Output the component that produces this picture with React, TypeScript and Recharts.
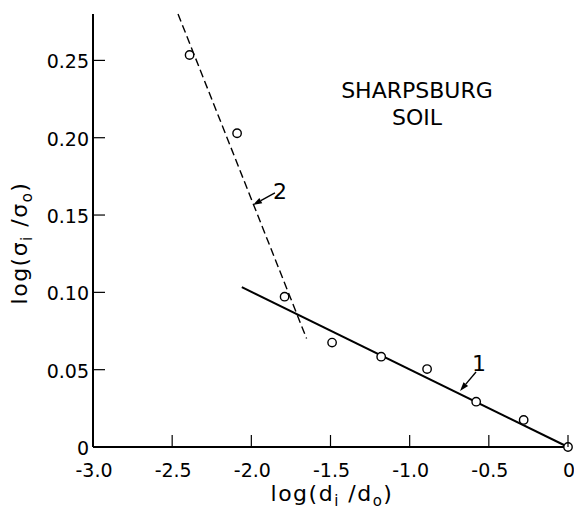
import {
  ComposedChart,
  XAxis,
  YAxis,
  Line,
  Scatter,
  ReferenceLine,
  ReferenceDot,
} from "recharts";

// measured points, log(di/do) vs log(sigma_i/sigma_o)
const pointX = [-2.39, -2.09, -1.79, -1.49, -1.18, -0.89, -0.58, -0.28, 0];
const pointY = [0.2535, 0.2029, 0.0972, 0.0675, 0.0584, 0.0504, 0.0293, 0.0175, 0];

// fitted line 1 (solid) and line 2 (dashed)
const line1X = [-2.06, 0];
const line1Y = [0.1034, 0];
const line2X = [-2.463, -1.651];
const line2Y = [0.28, 0.0701];

const xTicks = [-3, -2.5, -2, -1.5, -1, -0.5, 0];
const yTicks = [0, 0.05, 0.1, 0.15, 0.2, 0.25];

const arrowNames = ["2", "1"];
const arrowTails = [
  { x: -1.851, y: 0.1643 },
  { x: -0.581, y: 0.0485 },
];
const arrowTips = [
  { x: -1.99, y: 0.1565 },
  { x: -0.682, y: 0.0362 },
];

const FONT = "DejaVu Sans";
const TICK_LEN = 12;

const points = pointX.map((x, i) => ({ x, y: pointY[i] }));
const line1 = line1X.map((x, i) => ({ x, y: line1Y[i] }));
const line2 = line2X.map((x, i) => ({ x, y: line2Y[i] }));

const labelOffsets = [
  { dx: -2, dy: 6 },
  { dx: -4, dy: -1 },
];

function arrowShape(idx: number) {
  return (p: any) => {
    const { x1, y1, x2, y2 } = p;
    // x1,y1 = tail, x2,y2 = tip
    const ang = Math.atan2(y2 - y1, x2 - x1);
    const len = 9;
    const w = 3;
    const bx = x2 - len * Math.cos(ang);
    const by = y2 - len * Math.sin(ang);
    const px = -Math.sin(ang) * w;
    const py = Math.cos(ang) * w;
    return (
      <g>
        <line x1={x1} y1={y1} x2={bx} y2={by} stroke="#000" strokeWidth={1.4} />
        <polygon
          points={`${x2},${y2} ${bx + px},${by + py} ${bx - px},${by - py}`}
          fill="#000"
        />
        <text
          x={x1 + labelOffsets[idx].dx}
          y={y1 + labelOffsets[idx].dy}
          fontSize={22}
          fontFamily={FONT}
          fill="#000"
        >
          {arrowNames[idx]}
        </text>
      </g>
    );
  };
}

// inward tick marks + labels
const BottomTick = (p: any) => {
  const v = p.payload.value;
  return (
    <g>
      <line x1={p.x} x2={p.x} y1={p.y} y2={p.y - TICK_LEN} stroke="#000" strokeWidth={1.2} />
      <text x={p.x + 1} y={p.y + 30} textAnchor="middle" fontSize={19} fontFamily={FONT} fill="#000">
        {v === 0 ? "0" : v.toFixed(1)}
      </text>
    </g>
  );
};

const LeftTick = (p: any) => {
  const v = p.payload.value;
  return (
    <g>
      <line x1={p.x} x2={p.x + TICK_LEN} y1={p.y} y2={p.y} stroke="#000" strokeWidth={1.2} />
      <text x={p.x - 4} y={p.y + 8} textAnchor="end" fontSize={19} fontFamily={FONT} fill="#000">
        {v === 0 ? "0" : v.toFixed(2)}
      </text>
    </g>
  );
};

const RightTick = (p: any) => (
  <line x1={p.x} x2={p.x - TICK_LEN} y1={p.y} y2={p.y} stroke="#000" strokeWidth={1.2} />
);

const yLabel = () => (
  <text
    transform="translate(27,243) rotate(-90)"
    textAnchor="middle"
    fontSize={22}
    fontFamily={FONT}
    letterSpacing={1.5}
    fill="#000"
  >
    log(σ
    <tspan fontSize={15} dy={5}>i</tspan>
    <tspan dy={-5}> /σ</tspan>
    <tspan fontSize={15} dy={5}>o</tspan>
    <tspan dy={-5}>)</tspan>
  </text>
);

const xLabel = () => (
  <text
    x={332}
    y={501}
    textAnchor="middle"
    fontSize={22}
    fontFamily={FONT}
    letterSpacing={1.5}
    fill="#000"
  >
    log(d
    <tspan fontSize={15} dy={5}>i</tspan>
    <tspan dy={-5}> /d</tspan>
    <tspan fontSize={15} dy={5}>o</tspan>
    <tspan dy={-5}>)</tspan>
  </text>
);

export default function App() {
  return (
    <div
      style={{
        position: "absolute",
        left: 0,
        top: 0,
        width: 574,
        height: 510,
        background: "#fff",
      }}
    >
      <ComposedChart
        width={574}
        height={510}
        margin={{ top: 14, right: 6, bottom: 0, left: 0 }}
      >
        <XAxis
          dataKey="x"
          type="number"
          domain={[-3, 0]}
          ticks={xTicks}
          tick={BottomTick}
          tickSize={0}
          tickMargin={0}
          tickLine={false}
          axisLine={{ stroke: "#000", strokeWidth: 2 }}
          height={63}
          interval={0}
          label={{ content: xLabel }}
        />
        <XAxis
          xAxisId="top"
          orientation="top"
          type="number"
          domain={[-3, 0]}
          tick={false}
          tickLine={false}
          axisLine={{ stroke: "#000", strokeWidth: 1.6 }}
          height={0}
        />
        <YAxis
          type="number"
          domain={[0, 0.28]}
          ticks={yTicks}
          tick={LeftTick}
          tickSize={0}
          tickMargin={0}
          tickLine={false}
          axisLine={{ stroke: "#000", strokeWidth: 2 }}
          width={93}
          interval={0}
          label={{ content: yLabel }}
        />
        <YAxis
          yAxisId="right"
          orientation="right"
          type="number"
          domain={[0, 0.28]}
          ticks={yTicks.slice(1)}
          tick={RightTick}
          tickSize={0}
          tickMargin={0}
          tickLine={false}
          axisLine={{ stroke: "#000", strokeWidth: 1.6 }}
          width={0}
          interval={0}
        />
        <Line
          data={line2}
          dataKey="y"
          stroke="#000"
          strokeWidth={1.4}
          strokeDasharray="8 4"
          dot={false}
          isAnimationActive={false}
        />
        <Line
          data={line1}
          dataKey="y"
          stroke="#000"
          strokeWidth={2}
          dot={false}
          isAnimationActive={false}
        />
        <Scatter
          data={points}
          dataKey="y"
          isAnimationActive={false}
          shape={(p: any) => (
            <circle
              cx={p.cx}
              cy={p.cy}
              r={4.2}
              fill="#fff"
              stroke="#000"
              strokeWidth={1.4}
            />
          )}
        />
        {arrowNames.map((n, i) => (
          <ReferenceLine
            key={n}
            segment={[arrowTails[i], arrowTips[i]]}
            stroke="#000"
            shape={arrowShape(i)}
          />
        ))}
        <ReferenceDot
          x={-0.954}
          y={0.2257}
          r={0}
          shape={(p: any) => (
            <g>
              <text
                x={p.cx}
                y={p.cy}
                textAnchor="middle"
                fontSize={22}
                fontFamily={FONT}
                fill="#000"
              >
                SHARPSBURG
              </text>
              <text
                x={p.cx}
                y={p.cy + 27}
                textAnchor="middle"
                fontSize={22}
                fontFamily={FONT}
                fill="#000"
              >
                SOIL
              </text>
            </g>
          )}
        />
      </ComposedChart>
    </div>
  );
}
